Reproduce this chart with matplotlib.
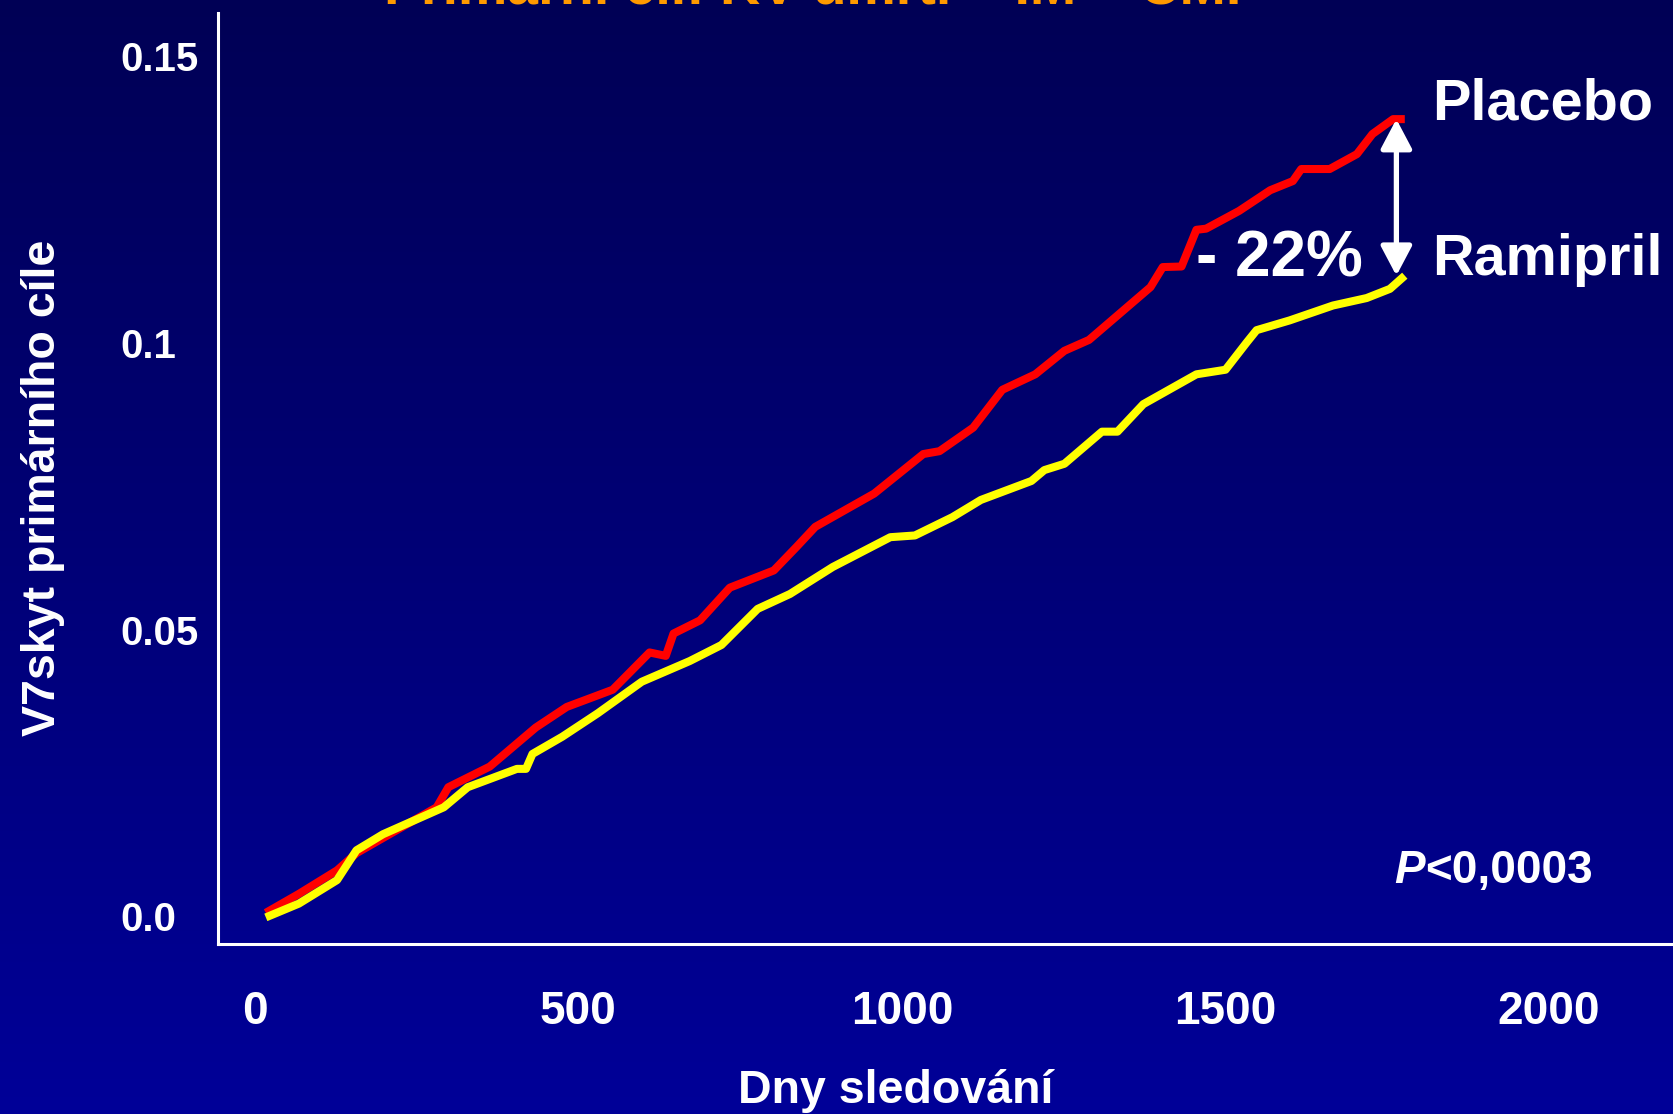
import matplotlib
matplotlib.use('Agg')
import matplotlib.pyplot as plt
import numpy as np
from matplotlib.colors import LinearSegmentedColormap
from matplotlib.patches import FancyArrowPatch

plt.rcParams['font.family'] = ['Liberation Sans', 'DejaVu Sans']

# cumulative event rate, placebo arm
placebo_days = [17, 68, 127, 157, 281, 299, 363, 434, 482, 553, 610, 635, 647, 688, 734,
                802, 837, 866, 957, 1033, 1058, 1110, 1155, 1206, 1251, 1289, 1384, 1403,
                1432, 1455, 1470, 1521, 1569, 1604, 1617, 1661, 1703, 1727, 1759, 1777]
placebo_rate = [0.0006, 0.0039, 0.0080, 0.0110, 0.0190, 0.0225, 0.0261, 0.0329, 0.0365,
                0.0395, 0.0460, 0.0454, 0.0493, 0.0516, 0.0573, 0.0603, 0.0644, 0.0679,
                0.0737, 0.0806, 0.0811, 0.0852, 0.0918, 0.0945, 0.0986, 0.1005, 0.1097,
                0.1132, 0.1133, 0.1197, 0.1199, 0.1230, 0.1266, 0.1282, 0.1303, 0.1303,
                0.1329, 0.1364, 0.1390, 0.1390]

# cumulative event rate, ramipril arm
ramipril_days = [17, 68, 127, 157, 198, 292, 329, 405, 419, 429, 475, 530, 598, 672, 721,
                 777, 827, 893, 982, 1020, 1078, 1122, 1200, 1220, 1251, 1309, 1333, 1373,
                 1455, 1500, 1533, 1548, 1599, 1666, 1718, 1754, 1777]
ramipril_rate = [-0.0002, 0.0022, 0.0063, 0.0115, 0.0143, 0.0190, 0.0225, 0.0257, 0.0257,
                 0.0283, 0.0313, 0.0354, 0.0409, 0.0445, 0.0473, 0.0536, 0.0562, 0.0609,
                 0.0661, 0.0664, 0.0696, 0.0726, 0.0759, 0.0778, 0.0789, 0.0845, 0.0845,
                 0.0893, 0.0945, 0.0953, 0.1001, 0.1022, 0.1039, 0.1065, 0.1078, 0.1094,
                 0.1117]

xticks = [0, 500, 1000, 1500, 2000]
xticklabels = ['0', '500', '1000', '1500', '2000']
yticks = [0.0, 0.05, 0.1, 0.15]
yticklabels = ['0.0', '0.05', '0.1', '0.15']

fig = plt.figure(figsize=(16.74, 11.14), dpi=100)

# blue gradient background
bg = fig.add_axes([0, 0, 1, 1], zorder=-10)
grad = np.linspace(0, 1, 256).reshape(-1, 1)
cmap = LinearSegmentedColormap.from_list('bg', ['#000055', '#000098'])
bg.imshow(grad, aspect='auto', cmap=cmap, extent=[0, 1, 0, 1], origin='upper')
bg.axis('off')

ax = fig.add_axes([0.1302, 0.1526, 0.8698, 0.8357])
ax.set_facecolor('none')

ax.plot(placebo_days, placebo_rate, color='#ff0000', lw=5.8, solid_joinstyle='round',
        solid_capstyle='butt')
ax.plot(ramipril_days, ramipril_rate, color='#ffff00', lw=5.8, solid_joinstyle='round',
        solid_capstyle='butt')

ax.set_xlim(-57, 2193)
ax.set_ylim(-0.00484, 0.1575)

for s in ['top', 'right']:
    ax.spines[s].set_visible(False)
for s in ['left', 'bottom']:
    ax.spines[s].set_color('white')
    ax.spines[s].set_linewidth(2.2)

ax.set_xticks(xticks)
ax.set_xticklabels(xticklabels, fontsize=33, fontweight='bold', color='white')
ax.set_yticks(yticks)
ax.set_yticklabels(yticklabels, fontsize=29, fontweight='bold', color='white', ha='left')
ax.tick_params(axis='x', length=0, pad=33)
ax.tick_params(axis='y', length=0, pad=70)

ax.set_xlabel('Dny sledování', fontsize=33.5, fontweight='bold', color='white', va='baseline')
ax.xaxis.set_label_coords(0.4657, -0.1708)
ax.set_ylabel('V7skyt primárního cíle', fontsize=33.5, fontweight='bold', color='white',
              va='center')
ax.yaxis.set_label_coords(-0.1205, 0.4898)

# double arrow between the two end points
arr = FancyArrowPatch((1764, ramipril_rate[-1]), (1764, placebo_rate[-1]),
                      arrowstyle='<|-|>,head_length=18,head_width=9.5', mutation_scale=1,
                      color='white', lw=3.8, shrinkA=0, shrinkB=0, zorder=5)
ax.add_patch(arr)

ax.text(1820, placebo_rate[-1] + 0.0026, 'Placebo', fontsize=41.5, fontweight='bold',
        color='white', va='center', ha='left')
ax.text(1820, ramipril_rate[-1] + 0.0028, 'Ramipril', fontsize=41.5, fontweight='bold',
        color='white', va='center', ha='left')
ax.text(1454, 0.1145, '- 22%', fontsize=46, fontweight='bold', color='white',
        va='center', ha='left')

ax.text(1808, 0.0079, 'P', fontsize=33, fontweight='bold', style='italic', color='white',
        va='center', ha='right')
ax.text(1808, 0.0079, '<0,0003', fontsize=33, fontweight='bold', color='white',
        va='center', ha='left')

fig.text(0.492, 1 - 4 / 1114, 'Primární cíl: KV úmrtí + IM + CMP', fontsize=40,
         fontweight='bold', color='#ff9900', ha='center', va='baseline')

fig.savefig('out.png', dpi=100)
